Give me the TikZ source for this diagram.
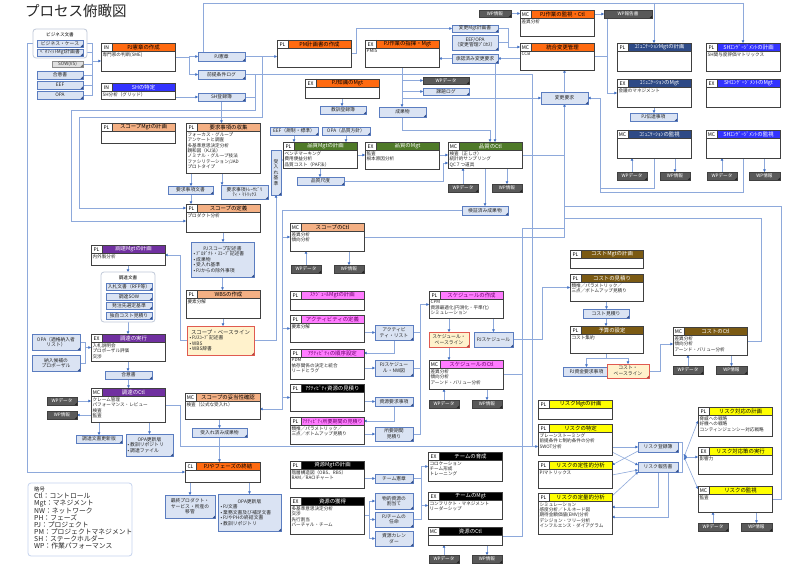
\documentclass[tikz,border=0pt]{standalone}
\usepackage{fontspec}
\setmainfont{Noto Sans CJK JP}
\usetikzlibrary{arrows.meta,calc}
\pgfdeclarelayer{bg}
\pgfsetlayers{bg,main}
\definecolor{cOrange}{HTML}{FF6A10}
\definecolor{cSalmon}{HTML}{F4B084}
\definecolor{cBlue}{HTML}{3333FF}
\definecolor{cNavy}{HTML}{2E4A86}
\definecolor{cGreen}{HTML}{4F7A28}
\definecolor{cPink}{HTML}{FF7BFF}
\definecolor{cPinkT}{HTML}{6A006A}
\definecolor{cBrown}{HTML}{7B5A13}
\definecolor{cPurple}{HTML}{7030A0}
\definecolor{cYellow}{HTML}{FFFF00}
\definecolor{cLine}{HTML}{8EA9DB}
\definecolor{cArrow}{HTML}{4472C4}
\definecolor{cDocFill}{HTML}{DAE3F3}
\definecolor{cDocLine}{HTML}{5B7DC0}
\definecolor{cDocShadow}{HTML}{34508C}
\definecolor{cFrame}{HTML}{404040}
\definecolor{cShadow}{HTML}{8A8A8A}
\definecolor{cWP}{HTML}{595959}
\definecolor{cYDoc}{HTML}{FFF2CC}
\definecolor{cRed}{HTML}{E05A50}
\definecolor{cGrp}{HTML}{BFC8D8}
\definecolor{cLegend}{HTML}{C5D3EE}
\tikzset{
  conn/.style={draw=cLine, line width=0.6pt},
  arr/.style={conn, -{Triangle[length=2.6pt,width=2.6pt,color=cArrow]}},
  darr/.style={conn, {Triangle[length=2.6pt,width=2.6pt,color=cArrow]}-{Triangle[length=2.6pt,width=2.6pt,color=cArrow]}},
  pnode/.style={fill=white, inner sep=0pt, outer sep=0pt},
  ttl/.style={font=\fontsize{5.4}{6}\selectfont, inner sep=0pt},
  tagt/.style={font=\fontsize{5}{6}\selectfont, inner sep=0pt, text=black},
  bodyt/.style={font=\fontsize{4.6}{5.4}\selectfont, anchor=north west, align=left, inner sep=0pt, text=black!85},
  docb/.style={fill=cDocFill, draw=cDocLine, line width=0.6pt, font=\fontsize{4.8}{5.6}\selectfont, align=center, inner sep=0.5pt, outer sep=0pt, text=black!85},
  docb-ear/.style={fill=cDocShadow},
  docL/.style={docb, align=left},
  docL-ear/.style={fill=cDocShadow},
  wpb/.style={fill=cWP, draw=black!75, line width=0.6pt, font=\fontsize{4.6}{5.4}\selectfont, align=center, inner sep=0.5pt, outer sep=0pt, text=white},
  wpb-ear/.style={fill=black!85},
  ydocb/.style={fill=cYDoc, draw=cRed, line width=0.8pt, font=\fontsize{4.8}{5.6}\selectfont, align=center, inner sep=0.5pt, outer sep=0pt, text=black!85},
  ydocb-ear/.style={fill=cRed!80!black},
  ydocL/.style={ydocb, align=left},
  ydocL-ear/.style={fill=cRed!80!black},
  gdocb/.style={fill=black!12, draw=black!45, line width=0.6pt, font=\fontsize{4.6}{5.4}\selectfont, align=center, inner sep=0.5pt, outer sep=0pt, text=black!80},
  gdocb-ear/.style={fill=black!55},
  grp/.style={draw=cGrp, line width=0.8pt, rounded corners=3pt, fill=white, inner sep=0pt, outer sep=0pt},
  h-orange/.style={fill=cOrange}, t-orange/.style={text=black},
  h-salmon/.style={fill=cSalmon}, t-salmon/.style={text=black},
  h-blue/.style={fill=cBlue}, t-blue/.style={text=white},
  h-navy/.style={fill=cNavy}, t-navy/.style={text=white},
  h-green/.style={fill=cGreen}, t-green/.style={text=white},
  h-pink/.style={fill=cPink}, t-pink/.style={text=cPinkT},
  h-brown/.style={fill=cBrown}, t-brown/.style={text=white},
  h-purple/.style={fill=cPurple}, t-purple/.style={text=white},
  h-black/.style={fill=black}, t-black/.style={text=white},
  h-yellow/.style={fill=cYellow}, t-yellow/.style={text=black},
}
% name, x, y, w, h, tag, colour, title, body
\newcommand\pbox[9]{%
  \fill[cShadow] ({#2+1.2},{#3+1.2}) rectangle ({#2+#4+1.2},{#3+#5+1.2});
  \node[pnode, minimum width=#4pt, minimum height=#5pt, anchor=north west] (#1) at (#2,#3) {};
  \fill[h-#7] ({#2+11},{#3}) rectangle ({#2+#4},{#3+8});
  \node[ttl, t-#7] (#1t) at ({#2+11+(#4-11)/2},{#3+4.2}) {#8};
  \node[tagt] (#1g) at ({#2+5.5},{#3+4.2}) {#6};
  \draw[cFrame, line width=0.5pt] ({#2+11},{#3}) -- ({#2+11},{#3+8}) ({#2},{#3+8}) -- ({#2+#4},{#3+8});
  \node[bodyt] (#1b) at ({#2+1.4},{#3+9.3}) {#9};
  \draw[cFrame, line width=0.8pt] (#1.north west) rectangle (#1.south east);
}
% [style] name, x, y, w, h, text
\newcommand\dbox[7][docb]{%
  \fill[#1-ear] ({#3+1},{#4+1}) rectangle ({#3+#5+1},{#4+#6+1});
  \node[#1, minimum width=#5pt, minimum height=#6pt, anchor=north west] (#2) at (#3,#4) {#7};
  \fill[#1-ear] (#2.south east) -- ++(-2.5,0) -- ++(2.5,-2.5) -- cycle;
}
\newcommand\wpc[3]{%
  \draw[arr] (#2.north) -- (#2.north |- #1.south);
  \draw[arr] (#1.south -| #3.north) -- (#3.north);
}
\begin{document}
\begin{tikzpicture}[x=1pt,y=-1pt]
\useasboundingbox (0,0) rectangle (800,564);

\node[anchor=north west, font=\fontsize{14.5}{16}\selectfont, inner sep=0pt, text=black!85] (title) at (25,4.5) {プロセス俯瞰図};

% ---------- left inputs
\node[grp, minimum width=54pt, minimum height=29pt, anchor=north west] (gBiz) at (33,29) {};
\node[font=\fontsize{4.6}{5}\selectfont, inner sep=0pt] (gBizT) at (60,34.5) {ビジネス文書};
\dbox{dBizCase}{37}{40}{46}{7}{ビジネス・ケース}
\dbox{dBenefit}{37}{49}{46}{7}{ﾍﾞﾈﾌｨｯﾄMgt計画書}
\dbox[gdocb]{dSOW}{52}{61}{31}{6}{SOW(VS)}
\dbox{dAgree}{37}{71}{46}{8}{合意書}
\dbox{dEEF}{37}{81}{46}{8}{EEF}
\dbox{dOPA}{37}{91}{46}{8}{OPA}

% ---------- processes
\pbox{pCharter}{101}{43}{74}{28}{IN}{orange}{PJ憲章の作成}{専門家の判断(SME)}
\pbox{pSHid}{101}{83}{74}{16}{IN}{blue}{SHの特定}{SH分析（グリッド）}
\pbox{pPMplan}{277}{40}{74}{27}{PL}{orange}{PM計画書の作成}{}
\pbox{pDirect}{365}{40}{74}{27}{EX}{orange}{PJ作業の指揮・Mgt}{PMIS}
\pbox{pKnow}{305}{79}{74}{19}{EX}{orange}{PJ知識のMgt}{}
\pbox{pMonitor}{520}{10}{74}{26}{MC}{orange}{PJ作業の監視・Ctl}{差異分析}
\pbox{pICC}{520}{43}{74}{27}{MC}{orange}{統合変更管理}{CCB}
\pbox{pCommPlan}{617}{43}{74}{28}{PL}{navy}{ｺﾐｭﾆｹｰｼｮﾝMgtの計画}{}
\pbox{pSHPlan}{706}{43}{74}{28}{PL}{blue}{SHｴﾝｹﾞｰｼﾞﾒﾝﾄの計画}{SH関与度評価マトリックス}
\pbox{pCommMgt}{617}{79}{74}{28}{EX}{navy}{ｺﾐｭﾆｹｰｼｮﾝのMgt}{会議のマネジメント}
\pbox{pSHMgt}{706}{79}{74}{28}{EX}{blue}{SHｴﾝｹﾞｰｼﾞﾒﾝﾄのMgt}{}
\pbox{pCommMon}{617}{130}{74}{28}{MC}{navy}{ｺﾐｭﾆｹｰｼｮﾝの監視}{}
\pbox{pSHMon}{706}{130}{74}{28}{MC}{blue}{SHｴﾝｹﾞｰｼﾞﾒﾝﾄの監視}{}
\pbox{pScopePlan}{101}{123}{74}{20}{PL}{salmon}{スコープMgtの計画}{}
\pbox{pReq}{186}{123}{74}{50}{PL}{salmon}{要求事項の収集}{フォーカス・グループ\\アンケートと調査\\多基準意思決定分析\\親和図（KJ法）\\ノミナル・グループ技法\\ファシリテーション/JAD\\プロトタイプ}
\pbox{pScopeDef}{186}{204}{74}{28}{PL}{salmon}{スコープの定義}{プロダクト分析}
\pbox{pWBS}{186}{290}{74}{28}{PL}{salmon}{WBSの作成}{要素分解}
\pbox{pScopeCtl}{290}{223}{74}{28}{MC}{salmon}{スコープのCtl}{差異分析\\傾向分析}
\pbox{pQPlan}{283}{142}{74}{26}{PL}{green}{品質Mgtの計画}{ベンチマーキング\\費用便益分析\\品質コスト（PAF法）}
\pbox{pQMgt}{365}{142}{74}{27}{EX}{green}{品質のMgt}{監査\\根本原因分析}
\pbox{pQCtl}{448}{142}{74}{26}{MC}{green}{品質のCtl}{検査（正しさ）\\統計的サンプリング\\QC７つ道具}
\pbox{pSchPlan}{290}{291}{74}{19}{PL}{pink}{ｽｹｼﾞｭｰﾙMgtの計画}{}
\pbox{pActDef}{290}{315}{74}{27}{PL}{pink}{アクティビティの定義}{要素分解}
\pbox{pSeq}{290}{349}{74}{30}{PL}{pink}{ｱｸﾃｨﾋﾞﾃｨの順序設定}{PDM\\依存関係の決定と統合\\リードとラグ}
\pbox{pActRes}{290}{384}{74}{27}{PL}{black}{ｱｸﾃｨﾋﾞﾃｨ資源の見積り}{}
\pbox{pDur}{290}{417}{74}{27}{PL}{pink}{{\fontsize{5}{6}\selectfont ｱｸﾃｨﾋﾞﾃｨ所要期間の見積り}}{類推／パラメトリック／\\三点／ボトムアップ見積り}
\pbox{pSchDev}{429}{291}{74}{27}{PL}{pink}{スケジュールの作成}{CPM\\資源最適化(円滑化・平準化)\\シミュレーション}
\pbox{pSchCtl}{429}{360}{74}{29}{MC}{pink}{スケジュールのCtl}{差異分析\\傾向分析\\アーンド・バリュー分析}
\pbox{pCostPlan}{570}{250}{73}{18}{PL}{brown}{コストMgtの計画}{}
\pbox{pCostEst}{570}{274}{73}{27}{PL}{brown}{コストの見積り}{類推／パラメトリック／\\三点／ボトムアップ見積り}
\pbox{pBudget}{570}{326}{73}{27}{PL}{brown}{予算の設定}{コスト集約}
\pbox{pCostCtl}{673}{327}{74}{28}{MC}{brown}{コストのCtl}{差異分析\\傾向分析\\アーンド・バリュー分析}
\pbox{pProcPlan}{91}{245}{74}{20}{PL}{purple}{調達Mgtの計画}{内外製分析}
\pbox{pProcEx}{91}{334}{74}{27}{EX}{purple}{調達の実行}{入札説明会\\プロポーザル評価\\交渉}
\pbox{pProcCtl}{91}{388}{74}{34}{MC}{purple}{調達のCtl}{クレーム管理\\パフォーマンス・レビュー\\検査\\監査}
\pbox{pValid}{185}{393}{75}{26}{MC}{salmon}{スコープの妥当性確認}{検査（公式な受入れ）}
\pbox{pClose}{185}{462}{75}{20}{CL}{orange}{PJやフェーズの終結}{}
\pbox{pResPlan}{290}{461}{74}{27}{PL}{black}{資源Mgtの計画}{階層構造図（OBS、RBS）\\RAM／RACIチャート}
\pbox{pResAcq}{290}{497}{74}{37}{EX}{black}{資源の獲得}{多基準意思決定分析\\交渉\\先行割当\\バーチャル・チーム}
\pbox{pTeamDev}{428}{452}{74}{29}{EX}{black}{チームの育成}{コロケーション\\チーム形成\\トレーニング}
\pbox{pTeamMgt}{428}{492}{74}{27}{EX}{black}{チームのMgt}{コンフリクト・マネジメント\\リーダーシップ}
\pbox{pResCtl}{428}{527}{74}{18}{MC}{black}{資源のCtl}{}
\pbox{pRiskPlan}{538}{400}{74}{19}{PL}{yellow}{リスクMgtの計画}{}
\pbox{pRiskId}{538}{424}{74}{31}{PL}{yellow}{リスクの特定}{ブレーンストーミング\\前提条件と制約条件の分析\\SWOT分析}
\pbox{pRiskQual}{538}{461}{74}{27}{PL}{yellow}{リスクの定性的分析}{PIマトリックス}
\pbox{pRiskQuan}{538}{493}{74}{41}{PL}{yellow}{リスクの定量的分析}{シミュレーション\\感度分析／トルネード図\\期待金額価値(EMV)分析\\デシジョン・ツリー分析\\インフルエンス・ダイアグラム}
\pbox{pRiskResp}{698}{407}{74}{29}{PL}{yellow}{リスク対応の計画}{脅威への戦略\\好機への戦略\\コンティンジェンシー対応戦略}
\pbox{pRiskImp}{698}{447}{74}{27}{EX}{yellow}{リスク対応策の実行}{影響力}
\pbox{pRiskMon}{698}{486}{74}{26}{MC}{yellow}{リスクの監視}{監査}

% ---------- documents
\dbox{dCharter}{198}{52}{47}{9}{PJ憲章}
\dbox{dAssump}{198}{70}{47}{9}{前提条件ログ}
\dbox{dSHReg}{198}{93}{47}{8}{SH登録簿}
\dbox{dLessons}{320}{106}{46}{8}{教訓登録簿}
\dbox{dDeliv}{379}{107}{47}{10}{成果物}
\dbox{dChgPlan}{452}{25}{46}{7}{変更Mgt計画書}
\dbox{dEEFOPA}{452}{35}{46}{15}{EEF/OPA\\（変更管理ﾌﾟﾛｾｽ）}
\dbox{dApproved}{452}{54}{46}{9}{承認済み変更要求}
\dbox[wpb]{wWPD1}{423}{77}{46}{7}{WPデータ}
\dbox{dIssue}{423}{88}{46}{7}{課題ログ}
\dbox[wpb]{wWPI0}{479}{10}{32}{7}{WP情報}
\dbox[wpb]{wWPR}{604}{10}{48}{8}{WP報告書}
\dbox{dChgReq}{541}{92}{47}{12}{変更要求}
\dbox{dComm}{630}{113}{47}{8}{PJ伝達事項}
\dbox[wpb]{wWPD2}{617}{172}{30}{8}{WPデータ}
\dbox[wpb]{wWPI2}{660}{172}{30}{8}{WP情報}
\dbox[wpb]{wWPD3}{707}{172}{30}{8}{WPデータ}
\dbox[wpb]{wWPI3}{749}{172}{31}{8}{WP情報}
\dbox{dReqDoc}{168}{186}{45}{8}{要求事項文書}
\dbox{dRTM}{221}{185}{47}{14}{要求事項ﾄﾚｰｻﾋﾞﾘ\\ﾃｨ・ﾏﾄﾘｯｸｽ}
\dbox[docL]{dScopeStmt}{191}{242}{63}{35}{\makebox[58pt]{PJスコープ記述書}\\• ﾌﾟﾛﾀﾞｸﾄ・ｽｺｰﾌﾟ記述書\\• 成果物\\• 受入れ基準\\• PJからの除外事項}
\dbox[ydocL]{ySB}{187}{326}{67}{29}{\makebox[62pt]{\fontsize{5.4}{6}\selectfont スコープ・ベースライン}\\• PJｽｺｰﾌﾟ記述書\\• WBS\\• WBS辞書}
\dbox[wpb]{wWPD4}{291}{265}{30}{8}{WPデータ}
\dbox[wpb]{wWPI4}{334}{265}{30}{8}{WP情報}
\dbox{dEEFq}{270}{127}{48}{8}{EEF（規制・標準）}
\dbox{dOPAq}{322}{127}{48}{8}{OPA（品質方針）}
\dbox{dQMet}{297}{177}{47}{8}{品質尺度}
\dbox{dAccCrit}{271}{150}{10}{45}{受\\入\\れ\\基\\準}
\dbox[wpb]{wWPD5}{448}{184}{30}{8}{WPデータ}
\dbox[wpb]{wWPI5}{492}{184}{30}{8}{WP情報}
\dbox{dVerified}{462}{206}{46}{9}{検証済み成果物}
\dbox{dActList}{375}{325}{38}{15}{アクティビ\\ティ・リスト}
\dbox{dNW}{375}{360}{38}{16}{PJスケジュー\\ル・NW図}
\dbox{dResReq}{375}{397}{38}{9}{資源要求事項}
\dbox{dDurEst}{375}{427}{38}{14}{所要期間\\見積り}
\dbox[ydocb]{ySchB}{429}{332}{40}{15}{スケジュール・\\ベースライン}
\dbox{dPJSch}{474}{332}{39}{15}{PJスケジュール}
\dbox[wpb]{wWPD6}{429}{400}{30}{8}{WPデータ}
\dbox[wpb]{wWPI6}{472}{400}{30}{8}{WP情報}
\dbox{dCostEst}{583}{309}{46}{9}{コスト見積り}
\dbox{dFund}{563}{367}{47}{9}{PJ資金要求事項}
\dbox[ydocb]{yCB}{607}{364}{42}{14}{コスト・\\ベースライン}
\dbox[wpb]{wWPD7}{673}{366}{30}{8}{WPデータ}
\dbox[wpb]{wWPI7}{716}{366}{31}{8}{WP情報}
\node[grp, minimum width=54pt, minimum height=50pt, anchor=north west] (gProc) at (101,272) {};
\node[font=\fontsize{4.6}{5}\selectfont, inner sep=0pt] (gProcT) at (128,277.5) {調達文書};
\dbox{dRFP}{106}{283}{46}{7}{入札文書（RFP等）}
\dbox{dPSOW}{106}{293}{46}{7}{調達SOW}
\dbox{dCrit}{106}{302}{46}{7}{発注先選定基準}
\dbox{dIndep}{106}{312}{46}{7}{独自コスト見積り}
\dbox{dOPAven}{32}{334}{48}{16}{OPA（適格納入者\\リスト）}
\dbox{dProposal}{32}{355}{48}{16}{納入候補の\\プロポーザル}
\dbox{dAgree2}{105}{371}{47}{8}{合意書}
\dbox[wpb]{wWPD8}{47}{397}{30}{8}{WPデータ}
\dbox[wpb]{wWPI8}{47}{411}{30}{8}{WP情報}
\dbox{dProcUpd}{76}{435}{46}{8}{調達文書更新版}
\dbox[docL]{dOPAupd1}{126}{434}{47}{22}{\makebox[44pt]{OPA更新版}\\• 教訓リポジトリ\\• 調達ファイル}
\dbox{dAccepted}{192}{428}{55}{9}{受入れ済み成果物}
\dbox{dFinal}{165}{495}{50}{23}{最終プロダクト・\\サービス・所産の\\移管}
\dbox[docL]{dOPAupd2}{218}{494}{63}{37}{\makebox[58pt]{OPA更新版}\\• PJ文書\\• 業務文書及び補足文書\\• PJやPHの終結文書\\• 教訓リポジトリ}
\dbox{dCharterT}{375}{474}{38}{9}{チーム憲章}
\dbox{dPhys}{375}{493}{38}{16}{物的資源の\\割当て}
\dbox{dTeamAssign}{375}{512}{38}{15}{PJチームの\\任命}
\dbox{dResCal}{375}{531}{38}{15}{資源カレン\\ダー}
\dbox[wpb]{wWPD9}{429}{555}{30}{8}{WPデータ}
\dbox[wpb]{wWPI9}{472}{555}{30}{8}{WP情報}
\dbox{dRiskReg}{638}{442}{40}{10}{リスク登録簿}
\dbox{dRiskRep}{638}{462}{40}{10}{リスク報告書}
\dbox[wpb]{wWPD10}{698}{523}{30}{8}{WPデータ}
\dbox[wpb]{wWPI10}{741}{523}{31}{8}{WP情報}

% ---------- legend
\node[grp, draw=cLegend, minimum width=104pt, minimum height=73pt, anchor=north west] (legend) at (28,483) {};
\node[anchor=north west, align=left, inner sep=0pt, font=\fontsize{6.8}{7}\selectfont, text=black!85] (legendT) at (34,487) {{\fontsize{5.4}{6}\selectfont 略号}\\Ctl：コントロール\\Mgt：マネジメント\\NW：ネットワーク\\PH：フェーズ\\PJ：プロジェクト\\PM：プロジェクトマネジメント\\SH：ステークホルダー\\WP：作業パフォーマンス};

% ---------- connectors
\begin{pgfonlayer}{bg}
\fill[white] (0,0) rectangle (800,564);
\coordinate (Ytop) at (0,3);
\coordinate (y206) at (0,206);
\coordinate (y218) at (0,218);
\coordinate (y228) at (0,228);
\coordinate (x522) at (522,0);
\coordinate (x607) at (607,0);
\coordinate (bIn) at (92,61);
\coordinate (j1) at (262,56.5);

\draw[arr] (dBizCase.west) -- ++(-10,0) |- (pClose.west);
\draw[conn] (dBizCase.east) -- ++(9,0) coordinate (bA) -- (bA |- dOPA.east) -- (dOPA.east);
\foreach \n in {dBenefit,dSOW,dAgree,dEEF} \draw[conn] (\n.east) -- (\n.east -| bA);
\draw[arr] (bIn) -- (bIn -| pCharter.west);
\draw[conn] (pCharter.east) -- ++(14,0) coordinate (sp1);
\draw[arr] (sp1) |- (dCharter.west);
\draw[arr] (sp1) |- (dAssump.west);
\draw[arr] (pSHid.east |- dSHReg.west) -- (dSHReg.west);
\draw[arr] (dCharter.east) -- (dCharter.east -| pPMplan.west);
\draw[arr] (dAssump.east) -- ++(10,0) coordinate (lp1) -- ++(0,35.5) -- (71,110) -- (71,221) -- ($(pScopeDef.north west)+(0,17)$);
\draw[conn] (dSHReg.east) -- (dSHReg.east -| lp1);
\draw[arr] (j1) -- (262,117) -- (79,117) -- (79,208) -- ($(pScopeDef.north west)+(0,4)$);
\draw[conn] (lp1) -- (532,74.5) -- (532,446.5) coordinate (rk);
\draw[arr] (rk) -- (rk -| pRiskId.west);
\draw[arr] (dSHReg.south) -- (dSHReg.south |- pReq.north);
\draw[conn] ($(dCharter.north west)+(5,0)$) -- (203,3) -- (pSHPlan.north |- Ytop);
\draw[arr] (pCommPlan.north |- Ytop) -- (pCommPlan.north);
\draw[arr] (pSHPlan.north |- Ytop) -- (pSHPlan.north);
\draw[arr] ($(pReq.south west)+(5,0)$) -- ($(dReqDoc.north west)+(23,0)$);
\draw[arr] ($(pReq.south west)+(36,0)$) -- ($(dRTM.north west)+(1,0)$);
\draw[arr] ($(dReqDoc.south west)+(23,0)$) -- ($(pScopeDef.north west)+(5,0)$);
\draw[arr] (pScopeDef.south) -- (pScopeDef.south |- dScopeStmt.north);
\draw[arr] (dScopeStmt.south) -- (dScopeStmt.south |- pWBS.north);
\draw[arr] (pWBS.south) -- (pWBS.south |- ySB.north);
\draw[arr] (ySB.east) -| (dAccCrit.south);
\draw[arr] ($(dAccCrit.north east)+(0,10)$) -- ($(pQPlan.north west)+(0,18)$);
\draw[arr] (dVerified.west) -- ++(-180,0) coordinate (vb) |- ($(pValid.north east)+(0,16)$);
\draw[arr] (vb |- pScopeCtl.west) -- (pScopeCtl.west);
\draw[arr] (vb |- pActDef.west) -- (pActDef.west);
\draw[arr] (vb |- pActRes.west) -- (pActRes.west);
\draw[arr] (ySB.west) -- ++(-7,0) |- (pProcPlan.east);
\draw[arr] (pScopeCtl.east) -| (dChgReq.south);
\wpc{pScopeCtl}{wWPD4}{wWPI4}
% quality
\draw[arr] (dEEFq.south) -- (dEEFq.south |- pQPlan.north);
\draw[arr] (dOPAq.south) -- (dOPAq.south |- pQPlan.north);
\draw[arr] (pQPlan.south) -- (pQPlan.south |- dQMet.north);
\draw[arr] (pQPlan.east) -- (pQPlan.east -| pQMgt.west);
\draw[arr] (pQMgt.east |- pQCtl.west) -- (pQCtl.west);
\draw[arr] (dQMet.east) -- (443,181) -- (443,163) -- ($(pQCtl.north west)+(0,21)$);
\wpc{pQCtl}{wWPD5}{wWPI5}
\draw[arr] (pQCtl.south) -- (pQCtl.south |- dVerified.north);
\draw[conn] (pQCtl.east) -- (pQCtl.east -| dChgReq.south);
% integration
\draw[arr] (pKnow.south) -- (pKnow.south |- dLessons.north);
\draw[arr] (pDirect.south) -- (pDirect.south |- dDeliv.north);
\draw[arr] (pDirect.south |- wWPD1.west) -- (wWPD1.west);
\draw[arr] (pDirect.south |- dIssue.west) -- (dIssue.west);
\draw[arr] (pDirect.south |- dChgReq.west) -- (dChgReq.west);
\draw[arr] (dDeliv.south) -- ++(0,13) -| ($(pQCtl.north west)+(42,0)$);
\draw[arr] ($(dApproved.south west)+(43,0)$) -- ($(pQCtl.north west)+(47,0)$);
\draw[arr] (pPMplan.east) -- ++(5,0) |- (dChgPlan.west);
\draw[arr] (dChgPlan.east) -- ++(10,0) coordinate (cb) |- ($(pICC.north west)+(0,4)$);
\draw[conn] (dEEFOPA.east) -- (dEEFOPA.east -| cb);
\draw[arr] (pICC.west |- dApproved.east) -- (dApproved.east);
\draw[arr] (dApproved.west) -- (dApproved.west -| pDirect.east);
\draw[arr] (wWPI0.east) -- (wWPI0.east -| pMonitor.west);
\draw[arr] (pMonitor.east |- wWPR.west) -- (wWPR.west);
\draw[arr] ($(wWPR.south west)+(3,0)$) |- (pCommMgt.west);
\draw[conn] (pICC.east) -- (pICC.east -| x607);
\draw[arr] (dChgReq.north) -- (dChgReq.north |- pICC.south);
% communications / stakeholders
\draw[arr] (pCommMgt.south) -- (pCommMgt.south |- dComm.north);
\wpc{pCommMon}{wWPD2}{wWPI2}
\wpc{pSHMon}{wWPD3}{wWPI3}
\draw[arr] (pCommMon.south) -- ++(0,30) -- (600,188) |- (dChgReq.east);
\draw[conn] (pSHMon.south) -- ++(0,34) -- (600,192) -- (600,188);
\draw[conn] (pRiskMon.east) -- ++(9,0) |- (dChgReq.south |- y206);
\draw[conn] (pCostCtl.east) -- ++(14,0) |- (dChgReq.south |- y218);
% schedule
\draw[arr] (pActDef.east |- dActList.west) -- (dActList.west);
\draw[arr] (dActList.south) |- ($(pSeq.north east)+(0,4)$);
\draw[arr] (pSeq.east |- dNW.west) -- (dNW.west);
\draw[arr] (pActRes.east |- dResReq.west) -- (dResReq.west);
\draw[arr] (dResReq.south) |- ($(pDur.north east)+(0,4)$);
\draw[arr] (pDur.east |- dDurEst.west) -- (dDurEst.west);
\draw[conn] (dActList.east) -- ++(7,0) coordinate (sb) -- (sb |- dDurEst.east) -- (dDurEst.east);
\draw[conn] (dNW.east) -- (dNW.east -| sb);
\draw[arr] (sb) -- (sb |- pSchDev.west) -- (pSchDev.west);
\draw[arr] (pSchDev.south -| ySchB.north) -- (ySchB.north);
\draw[arr] (pSchDev.south -| dPJSch.north) -- (dPJSch.north);
\draw[arr] (ySchB.south) -- (ySchB.south |- pSchCtl.north);
\draw[arr] (dPJSch.east) -- ++(29,0) |- (pCostEst.west);
\wpc{pSchCtl}{wWPD6}{wWPI6}
\draw[conn] (pSchCtl.east) -- (pSchCtl.east -| x522);
% resources
\draw[arr] (pResPlan.east |- dCharterT.west) -- (dCharterT.west);
\draw[conn] (pResAcq.east) -- ++(5,0) coordinate (rb);
\draw[conn] (rb |- dPhys.west) -- (rb |- dResCal.west);
\foreach \n in {dPhys,dTeamAssign,dResCal} \draw[arr] (rb |- \n.west) -- (\n.west);
\draw[conn] (dCharterT.east) -- ++(8,0) coordinate (tb);
\draw[conn] (tb |- pTeamDev.west) -- (tb |- dTeamAssign.east) -- (dTeamAssign.east);
\draw[arr] (tb |- pTeamDev.west) -- (pTeamDev.west);
\draw[arr] (tb |- pTeamMgt.west) -- (pTeamMgt.west);
\wpc{pResCtl}{wWPD9}{wWPI9}
\draw[conn] (pResCtl.east) -- (pResCtl.east -| x522) -- (x522 |- y228) -- (dChgReq.south |- y228);
% procurement
\draw[conn] (pProcCtl.east) -- ++(15,0) |- (rk);
\draw[arr] (pProcPlan.south) -- (pProcPlan.south |- gProc.north);
\draw[arr] (gProc.south) -- (gProc.south |- pProcEx.north);
\draw[conn] (dOPAven.east) -- ++(5,0) coordinate (pb) -- (pb |- dProposal.east) -- (dProposal.east);
\draw[arr] (pb |- pProcEx.west) -- (pProcEx.west);
\draw[arr] (pProcEx.south) -- (pProcEx.south |- dAgree2.north);
\draw[arr] (dAgree2.south) -- (dAgree2.south |- pProcCtl.north);
\draw[arr] (wWPD8.east) -- (wWPD8.east -| pProcCtl.west);
\draw[arr] (pProcCtl.west |- wWPI8.east) -- (wWPI8.east);
\draw[arr] (pProcCtl.south -| dProcUpd.north) -- (dProcUpd.north);
\draw[arr] (pProcCtl.south -| dOPAupd1.north) -- (dOPAupd1.north);
% validation / closing
\draw[arr] (dAccepted.north |- pValid.south) -- (dAccepted.north);
\draw[arr] (dAccepted.south) -- (dAccepted.south |- pClose.north);
\draw[arr] (pClose.south -| dFinal.north) -- (dFinal.north);
\draw[arr] (pClose.south -| dOPAupd2.north) -- (dOPAupd2.north);
% risk
\draw[arr] (pRiskId.east |- dRiskReg.west) -- (dRiskReg.west);
\draw[arr] ($(pRiskId.south east)+(0,-3)$) -- ($(dRiskRep.north west)+(0,3)$);
\draw[arr] ($(dRiskReg.south west)+(0,-1)$) -- ($(pRiskQual.north east)+(0,4)$);
\draw[arr] ($(pRiskQual.north east)+(0,14)$) -- ($(dRiskRep.south west)+(0,-2)$);
\draw[arr] ($(pRiskQuan.north east)+(0,3)$) -- (dRiskRep.south west);
\draw[arr] ($(dRiskRep.south west)+(20,0)$) |- ($(pRiskQuan.north east)+(0,14)$);
\draw[arr] ($(dRiskRep.south west)+(30,0)$) |- ($(pRiskQuan.north east)+(0,24)$);
\draw[conn] (dRiskReg.north east) -- ++(4,0) coordinate (bk1) -- (bk1 |- dRiskRep.south) -- (dRiskRep.south east);
\coordinate (bm) at ($(bk1)!0.5!(bk1 |- dRiskRep.south)+(2,0)$);
\draw[darr] (bm) -- ($(pRiskResp.north west)+(0,14)$);
\draw[darr] (bm) -- (bm -| pRiskImp.west);
\draw[darr] (bm) -- ($(pRiskMon.north west)+(0,3)$);
\wpc{pRiskMon}{wWPD10}{wWPI10}
% cost
\draw[arr] (pCostEst.south) -- (pCostEst.south |- dCostEst.north);
\draw[arr] (dCostEst.south) -- (dCostEst.south |- pBudget.north);
\draw[conn] (pBudget.south) -- ++(0,5) coordinate (bj);
\draw[arr] (bj) -| (dFund.north);
\draw[arr] (bj) -| (yCB.north);
\draw[arr] (yCB.east) -- ++(11,0) |- ($(pCostCtl.north west)+(0,17)$);
\wpc{pCostCtl}{wWPD7}{wWPI7}
\end{pgfonlayer}
\end{tikzpicture}
\end{document}
